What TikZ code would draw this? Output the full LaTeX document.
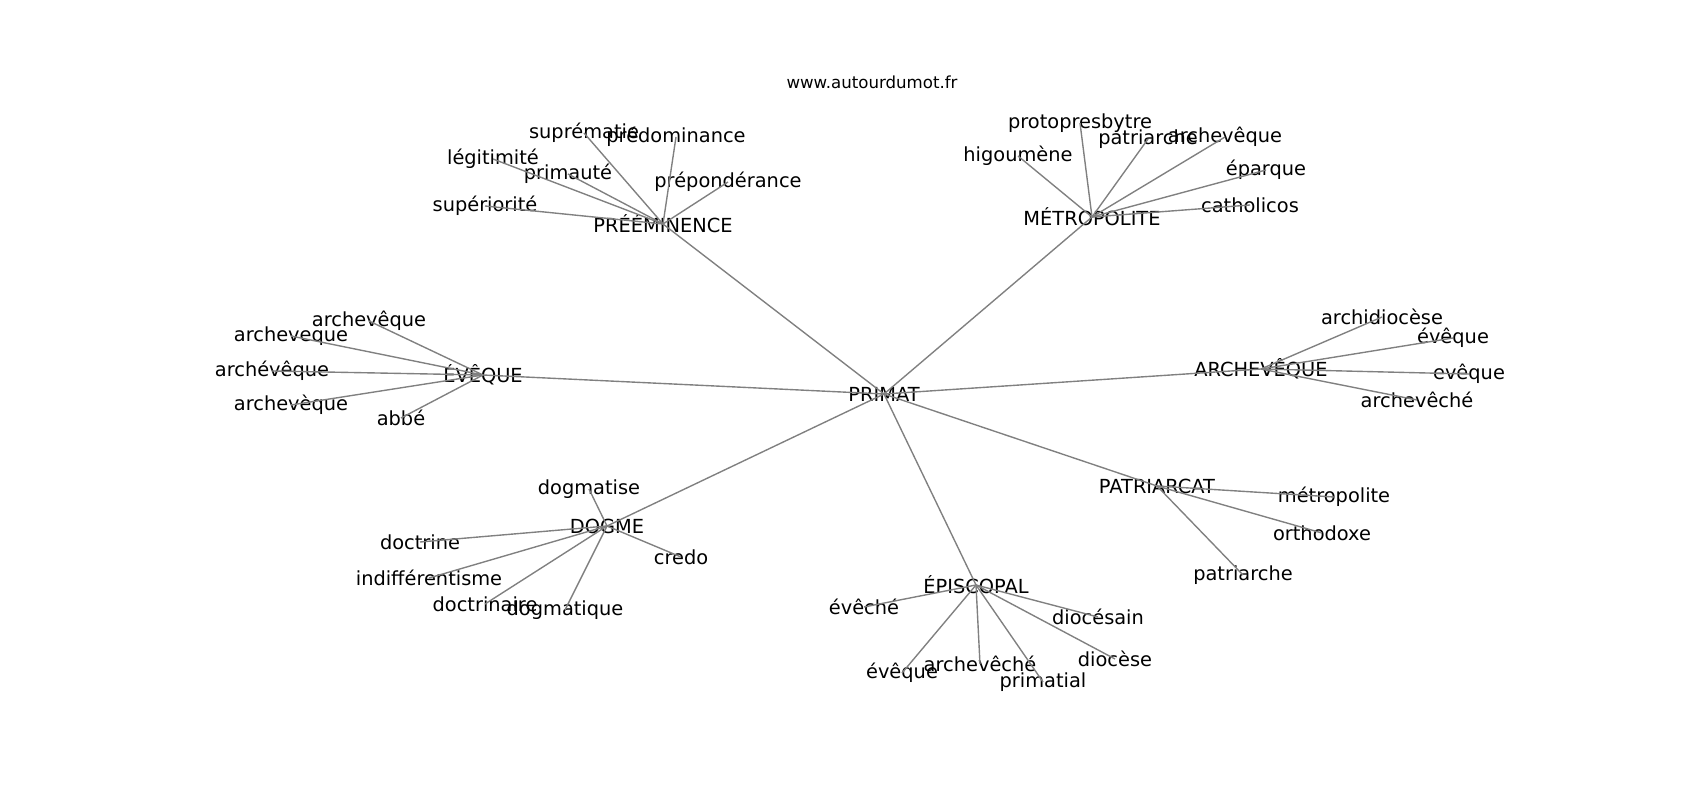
\documentclass[tikz,border=0pt]{standalone}
\usepackage{fontspec}
\setmainfont{DejaVu Sans}
\usetikzlibrary{positioning}

\begin{document}
\begin{tikzpicture}[
            x = 0.01in, % one pixel of the picture
            y = -0.01in, % downwards, as the picture is read
            every edge/.style = {draw, gray, line width = 1pt}, % link style
            semithick
        ]

        \tikzstyle{word}=[
            inner sep = 0pt,
            font = \fontsize{14}{16}\selectfont
        ]

        \useasboundingbox (0,0) rectangle (1700,800);

        \node[font = \fontsize{12}{14}\selectfont] (site) at (872,82) {www.autourdumot.fr};

        % centre and its groups
        \node[word] (primat) at (884,394) {PRIMAT};
        \node[word] (preem) at (663,224) {PRÉÉMINENCE};
        \node[word] (metro) at (1092,217) {MÉTROPOLITE};
        \node[word] (eveque) at (483,375) {ÉVÊQUE};
        \node[word] (archev) at (1261,369) {ARCHEVÊQUE};
        \node[word] (dogme) at (607,526) {DOGME};
        \node[word] (episc) at (976,585) {ÉPISCOPAL};
        \node[word] (patri) at (1157,486) {PATRIARCAT};

        % words round PRÉÉMINENCE
        \node[word] (suprem) at (584,133) {suprématie};
        \node[word] (predom) at (676,137) {prédominance};
        \node[word] (legit) at (493,159) {légitimité};
        \node[word] (primaute) at (568,174) {primauté};
        \node[word] (prepon) at (728,182) {prépondérance};
        \node[word] (superio) at (485,206) {supériorité};

        % words round MÉTROPOLITE
        \node[word] (protop) at (1080,123) {protopresbytre};
        \node[word] (patriM) at (1148,139) {patriarche};
        \node[word] (archevM) at (1225,137) {archevêque};
        \node[word] (higou) at (1018,156) {higoumène};
        \node[word] (eparq) at (1266,170) {éparque};
        \node[word] (cathol) at (1250,205) {catholicos};

        % words round ÉVÊQUE
        \node[word] (archevE) at (369,321) {archevêque};
        \node[word] (archeveq) at (291,336) {archeveque};
        \node[word] (archevev) at (272,371) {archévêque};
        \node[word] (archevg) at (291,405) {archevèque};
        \node[word] (abbe) at (401,418) {abbé};

        % words round ARCHEVÊQUE
        \node[word] (archidioc) at (1382,317) {archidiocèse};
        \node[word] (evequeA) at (1453,338) {évêque};
        \node[word] (evequeB) at (1469,374) {evêque};
        \node[word] (archechA) at (1417,400) {archevêché};

        % words round DOGME
        \node[word] (dogmatise) at (589,489) {dogmatise};
        \node[word] (doctrine) at (420,542) {doctrine};
        \node[word] (indiff) at (429,578) {indifférentisme};
        \node[word] (doctrinaire) at (485,604) {doctrinaire};
        \node[word] (dogmatique) at (565,610) {dogmatique};
        \node[word] (credo) at (681,557) {credo};

        % words round ÉPISCOPAL
        \node[word] (evecheP) at (864,607) {évêché};
        \node[word] (diocesain) at (1098,617) {diocésain};
        \node[word] (evequeP) at (902,673) {évêque};
        \node[word] (archechP) at (980,664) {archevêché};
        \node[word] (primatial) at (1043,682) {primatial};
        \node[word] (diocese) at (1115,659) {diocèse};

        % words round PATRIARCAT
        \node[word] (metropol) at (1334,497) {métropolite};
        \node[word] (orthod) at (1322,533) {orthodoxe};
        \node[word] (patriarche) at (1243,575) {patriarche};

        \foreach \g in {preem, metro, eveque, archev, dogme, episc, patri}
            \path (primat.center) edge (\g.center);
        \foreach \w in {suprem, predom, legit, primaute, prepon, superio}
            \path (preem.center) edge (\w.center);
        \foreach \w in {protop, patriM, archevM, higou, eparq, cathol}
            \path (metro.center) edge (\w.center);
        \foreach \w in {archevE, archeveq, archevev, archevg, abbe}
            \path (eveque.center) edge (\w.center);
        \foreach \w in {archidioc, evequeA, evequeB, archechA}
            \path (archev.center) edge (\w.center);
        \foreach \w in {dogmatise, doctrine, indiff, doctrinaire, dogmatique, credo}
            \path (dogme.center) edge (\w.center);
        \foreach \w in {evecheP, diocesain, evequeP, archechP, primatial, diocese}
            \path (episc.center) edge (\w.center);
        \foreach \w in {metropol, orthod, patriarche}
            \path (patri.center) edge (\w.center);

  \end{tikzpicture}
\end{document}
